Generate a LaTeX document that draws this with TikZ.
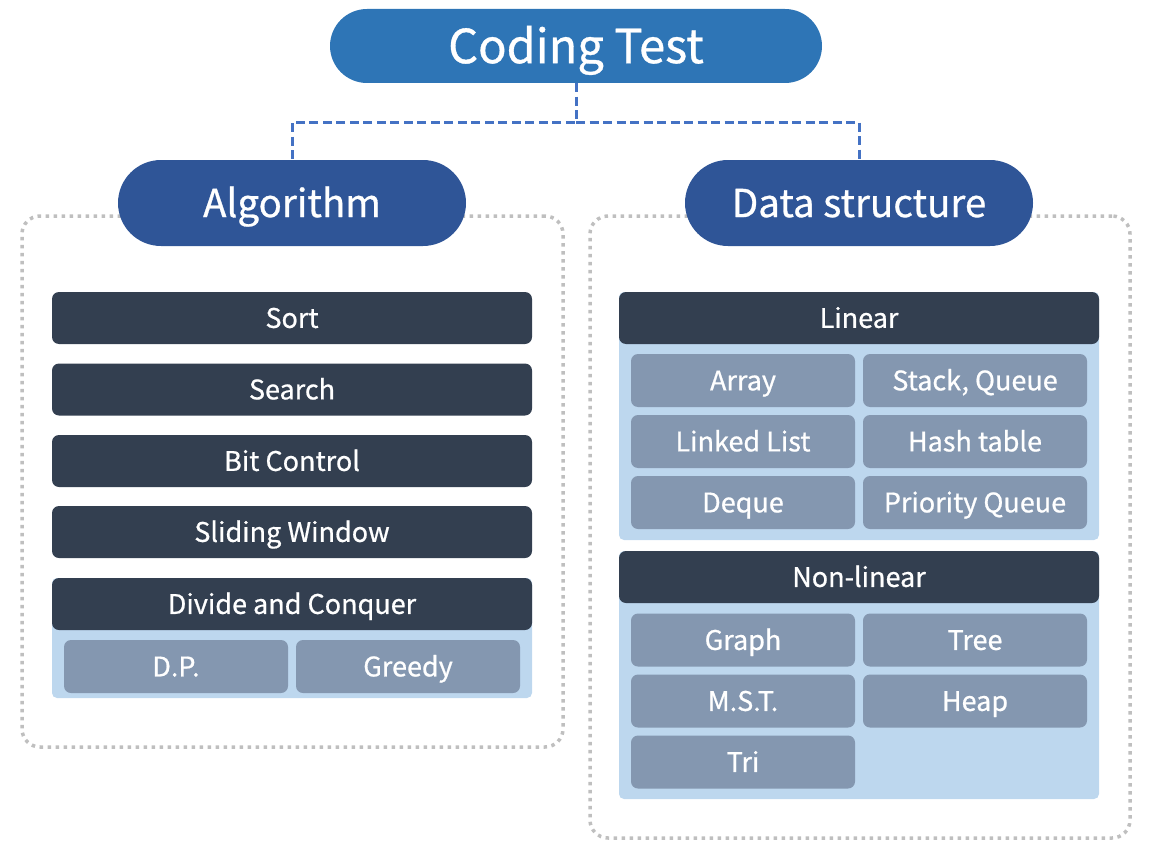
\documentclass[tikz,border=0pt]{standalone}
\usepackage{fontspec}
\setmainfont{Noto Sans CJK KR}[FakeBold=0.7]
\usetikzlibrary{positioning}
\definecolor{ctblue}{HTML}{2E75B6}
\definecolor{pillblue}{HTML}{2F5597}
\definecolor{darkbox}{HTML}{333F50}
\definecolor{subbox}{HTML}{8497B0}
\definecolor{panelblue}{HTML}{BDD7EE}
\definecolor{dotgray}{HTML}{BFBFBF}
\definecolor{dashblue}{HTML}{4472C4}
\tikzset{
  toppill/.style={fill=ctblue, text=white, rounded corners=37pt, minimum width=492pt, minimum height=74pt, inner sep=0pt, text height=34.4pt, text depth=0pt, font=\fontsize{47}{51}\selectfont},
  catpill/.style={fill=pillblue, text=white, rounded corners=43pt, minimum width=348pt, minimum height=86pt, inner sep=0pt, text height=28.2pt, text depth=0pt, font=\fontsize{38.5}{42}\selectfont},
  dotbox/.style={draw=dotgray, line width=3.5pt, dash pattern=on 3.5pt off 4.5pt, rounded corners=18pt, inner sep=0pt},
  hdrbox/.style={fill=darkbox, text=white, rounded corners=7pt, minimum width=480pt, minimum height=52pt, inner sep=0pt, text height=19.8pt, text depth=0pt, font=\fontsize{27}{30}\selectfont},
  itembox/.style={fill=subbox, text=white, rounded corners=7pt, minimum width=224pt, minimum height=53pt, inner sep=0pt, text height=19.8pt, text depth=0pt, font=\fontsize{27}{30}\selectfont},
  panel/.style={fill=panelblue, rounded corners=5pt, minimum width=480pt, inner sep=0pt},
  conn/.style={draw=dashblue, line width=3pt, dash pattern=on 9pt off 4.5pt}
}
\begin{document}
\begin{tikzpicture}[x=1pt,y=-1pt]
\useasboundingbox (0,0) rectangle (1151,856);
% dotted frames
\node[dotbox, minimum width=541pt, minimum height=531pt] (algframe) at (292.5,481.5) {};
\node[dotbox, minimum width=540pt, minimum height=622pt] (dsframe) at (860,527) {};
% top
\node[toppill] (ct) at (576,46) {Coding Test};
\node[catpill] (alg) at (292,203) {Algorithm};
\node[catpill] (ds) at (859,203) {Data structure};
\draw[conn] (ct.south) -- ++(0,39) coordinate (mid) -| (alg.north);
\draw[conn] (mid) -| (ds.north);
% algorithm column
\node[hdrbox] (sort) at (292,318) {Sort};
\node[hdrbox] (search) at (292,389.5) {Search};
\node[hdrbox] (bit) at (292,461) {Bit Control};
\node[hdrbox] (slide) at (292,532) {Sliding Window};
\node[panel, minimum height=120pt] (dcpanel) at (292,638) {};
\node[hdrbox] (dc) at (292,604) {Divide and Conquer};
\node[itembox] (dp) at (176,666.5) {D.P.};
\node[itembox] (greedy) at (408,666.5) {Greedy};
% data structure column
\node[panel, minimum height=248pt] (linpanel) at (859,416) {};
\node[hdrbox] (linear) at (859,318) {Linear};
\node[itembox] (array) at (743,380.5) {Array};
\node[itembox] (stack) at (975,380.5) {Stack, Queue};
\node[itembox] (llist) at (743,441.5) {Linked List};
\node[itembox] (hash) at (975,441.5) {Hash table};
\node[itembox] (deque) at (743,502.5) {Deque};
\node[itembox] (pq) at (975,502.5) {Priority Queue};
\node[panel, minimum height=248pt] (nlpanel) at (859,675) {};
\node[hdrbox] (nonlinear) at (859,577) {Non-linear};
\node[itembox] (graph) at (743,640) {Graph};
\node[itembox] (tree) at (975,640) {Tree};
\node[itembox] (mst) at (743,701) {M.S.T.};
\node[itembox] (heap) at (975,701) {Heap};
\node[itembox] (tri) at (743,762) {Tri};
\end{tikzpicture}
\end{document}
